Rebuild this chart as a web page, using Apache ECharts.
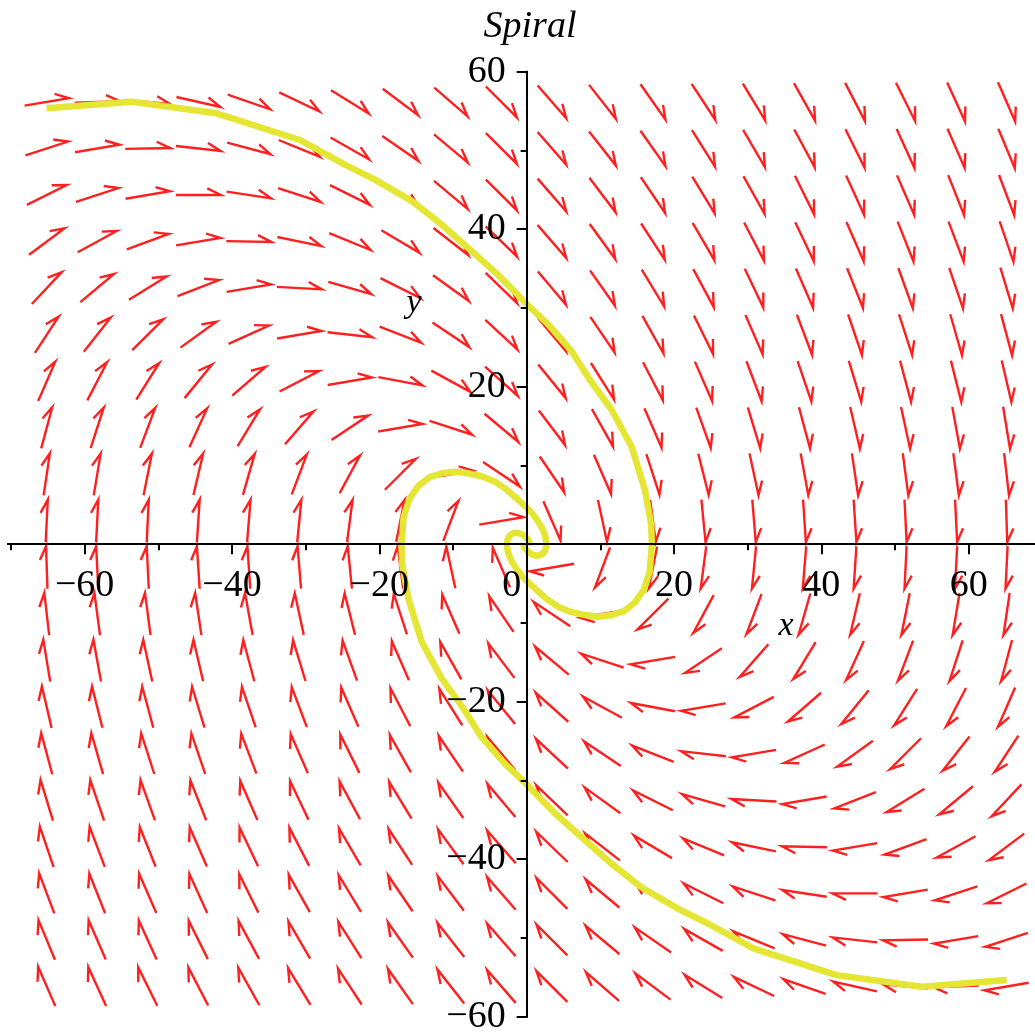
<!DOCTYPE html>
<html>
<head>
<meta charset="utf-8">
<script src="https://cdn.jsdelivr.net/npm/echarts@6/dist/echarts.min.js"></script>
<style>
html,body{margin:0;padding:0;background:#ffffff;}
#chart{width:1035px;height:1034px;}
</style>
</head>
<body>
<div id="chart"></div>
<script>
// ---------------- data ----------------
// arrow grid centres (x columns, y rows from top to bottom)
const xCenters = [-65.14, -58.29, -51.43, -44.57, -37.71, -30.86, -24.0, -17.14, -10.29, -3.43,
                  3.43, 10.29, 17.14, 24.0, 30.86, 37.71, 44.57, 51.43, 58.29, 65.14];
const yCenters = [56.16, 50.25, 44.34, 38.43, 32.52, 26.6, 20.69, 14.78, 8.87, 2.96,
                  -2.96, -8.87, -14.78, -20.69, -26.6, -32.52, -38.43, -44.34, -50.25, -56.16];
// arrow directions in degrees (data space, counter-clockwise from +x), one row per yCenters entry
const arrowAngles = [
  [9, 2, -5, -12, -18, -24, -30, -35, -39, -43, -47, -50, -53, -55, -57, -59, -61, -62, -64, -65],
  [17, 9, 1, -6, -14, -21, -28, -33, -38, -43, -47, -50, -53, -56, -58, -60, -62, -64, -65, -66],
  [25, 17, 9, 0, -8, -17, -25, -32, -38, -43, -47, -51, -54, -57, -59, -62, -64, -65, -67, -68],
  [35, 27, 19, 9, -1, -11, -21, -29, -36, -42, -47, -52, -55, -58, -61, -63, -65, -67, -68, -70],
  [45, 38, 30, 20, 9, -3, -15, -25, -34, -42, -48, -53, -57, -60, -63, -65, -67, -69, -70, -72],
  [55, 50, 43, 34, 23, 9, -6, -20, -32, -41, -48, -54, -59, -62, -65, -68, -70, -71, -73, -74],
  [65, 61, 56, 49, 39, 26, 9, -10, -27, -40, -49, -56, -61, -65, -68, -70, -72, -74, -75, -76],
  [74, 71, 68, 64, 57, 47, 32, 9, -17, -38, -51, -59, -65, -69, -72, -74, -76, -77, -79, -80],
  [81, 80, 78, 76, 73, 68, 60, 43, 9, -32, -54, -65, -71, -75, -77, -79, -81, -82, -82, -83],
  [87, 87, 87, 86, 85, 84, 82, 78, 68, 9, -65, -77, -82, -84, -85, -86, -86, -87, -87, -88],
  [92, 93, 93, 94, 94, 95, 96, 98, 103, 115, 189, 248, 258, 262, 264, 265, 266, 267, 267, 267],
  [97, 98, 98, 99, 101, 103, 105, 109, 115, 126, 148, 189, 223, 240, 248, 253, 256, 258, 260, 261],
  [100, 101, 103, 104, 106, 108, 111, 115, 121, 129, 142, 163, 189, 212, 227, 237, 244, 248, 251, 254],
  [104, 105, 106, 108, 110, 112, 115, 119, 124, 131, 140, 153, 170, 189, 206, 219, 229, 236, 241, 245],
  [106, 107, 109, 110, 112, 115, 118, 121, 126, 132, 139, 148, 160, 174, 189, 203, 214, 223, 230, 235],
  [108, 110, 111, 113, 115, 117, 120, 123, 127, 132, 138, 146, 155, 165, 177, 189, 200, 210, 218, 225],
  [110, 112, 113, 115, 117, 119, 122, 125, 128, 133, 138, 144, 151, 159, 169, 179, 189, 199, 207, 215],
  [112, 113, 115, 116, 118, 121, 123, 126, 129, 133, 137, 142, 148, 155, 163, 172, 180, 189, 197, 205],
  [114, 115, 116, 118, 120, 122, 124, 127, 130, 133, 137, 142, 147, 152, 159, 166, 174, 181, 189, 197],
  [115, 116, 118, 119, 121, 123, 125, 127, 130, 133, 137, 141, 145, 150, 156, 162, 168, 175, 182, 189]
];
// trajectory arms
const spiralArmA = [
  [-65.16,55.35],[-53.62,56.19],[-42.08,54.72],[-30.77,51.33],[-24.67,48.2],[-20.6,46.3],[-15.61,43.6],
  [-11.54,40.6],[-7.93,37.6],[-3.86,34.2],[0,30.5],[2.93,27.9],[6.11,24.5],[8.59,20.85],[11.54,17.04],
  [14.25,12.38],[16.06,6.88],[16.9,2.5],[17.0,0],[16.7,-3.5],[15.9,-5.8],[14.7,-7.4],[13.2,-8.5],
  [11.54,-9.0],[9.7,-9.2],[7.91,-9.0],[6.0,-8.6],[4.29,-7.94],[2.8,-7.0],[1.58,-6.0],[0.4,-5.0],
  [-0.6,-4.1],[-1.4,-3.1],[-2.0,-2.2],[-2.4,-1.4],[-2.6,-0.69],[-2.68,-0.09],[-2.64,0.41],[-2.33,1.09],
  [-1.81,1.41],[-1.24,1.44],[-0.69,1.28],[-0.23,1.0],[0.23,0.53],[0.42,0.13],[0.38,-0.17]
];
const spiralArmB = [
  [65.16,-55.35],[53.62,-56.19],[42.08,-54.72],[30.77,-51.33],[24.67,-48.2],[20.6,-46.3],[15.61,-43.6],
  [11.54,-40.6],[7.93,-37.6],[3.86,-34.2],[0,-30.5],[-2.93,-27.9],[-6.11,-24.5],[-8.59,-20.85],[-11.54,-17.04],
  [-14.25,-12.38],[-16.06,-6.88],[-16.9,-2.5],[-17.0,0],[-16.7,3.5],[-15.9,5.8],[-14.7,7.4],[-13.2,8.5],
  [-11.54,9.0],[-9.7,9.2],[-7.91,9.0],[-6.0,8.6],[-4.29,7.94],[-2.8,7.0],[-1.58,6.0],[-0.4,5.0],
  [0.6,4.1],[1.4,3.1],[2.0,2.2],[2.4,1.4],[2.6,0.69],[2.68,0.09],[2.64,-0.41],[2.33,-1.09],
  [1.81,-1.41],[1.24,-1.44],[0.69,-1.28],[0.23,-1.0],[-0.23,-0.53],[-0.42,-0.13],[-0.38,0.17]
];
// axis ticks and labels
const xMajorTicks = [-60, -40, -20, 0, 20, 40, 60];
const xMinorTicks = [-70, -50, -30, -10, 10, 30, 50];
const xLabels = [-60, -40, -20, 0, 20, 40, 60];
const yMajorTicks = [-60, -40, -20, 20, 40, 60];
const yMinorTicks = [-50, -30, -10, 10, 30, 50];
const yLabels = [-60, -40, -20, 20, 40, 60];
const titleText = 'Spiral';
const xName = 'x';
const yName = 'y';

// ---------------- chart ----------------
const FONT = '"Liberation Serif", "Times New Roman", serif';
const X_MIN = -70.4, X_MAX = 69, Y_MIN = -60, Y_MAX = 60;
const G_LEFT = 8, G_RIGHT = 0, G_TOP = 71.7, G_BOTTOM = 17.3;
const W = 1035, H = 1034;
const gw = W - G_LEFT - G_RIGHT, gh = H - G_TOP - G_BOTTOM;
// offsets that bring the axes onto the origin lines
const yAxisOffset = -((0 - X_MIN) / (X_MAX - X_MIN) * gw);
const xAxisOffset = -((0 - Y_MIN) / (Y_MAX - Y_MIN) * gh);

const arrowData = [];
for (let j = 0; j < yCenters.length; j++) {
  for (let i = 0; i < xCenters.length; i++) {
    arrowData.push([xCenters[i], yCenters[j], arrowAngles[j][i]]);
  }
}
function numLabel(v) { return (v < 0 ? '\u2212' : '') + Math.abs(v); }

function renderArrow(params, api) {
  const x = api.value(0), y = api.value(1), a = api.value(2) * Math.PI / 180;
  const c = api.coord([x, y]);
  const d = api.coord([x + Math.cos(a), y + Math.sin(a)]);
  let dx = d[0] - c[0], dy = d[1] - c[1];
  const n = Math.hypot(dx, dy); dx /= n; dy /= n;
  const L = 1 / Math.sqrt((dx / 45) * (dx / 45) + (dy / 42.5) * (dy / 42.5));
  const h = L / 2;
  const tail = [c[0] - dx * h, c[1] - dy * h];
  const head = [c[0] + dx * h, c[1] + dy * h];
  const phi = 26 * Math.PI / 180, bl = 15;
  const bx = -dx, by = -dy;
  const rx = bx * Math.cos(phi) - by * Math.sin(phi);
  const ry = bx * Math.sin(phi) + by * Math.cos(phi);
  const barb = [head[0] + rx * bl, head[1] + ry * bl];
  return {
    type: 'polyline',
    shape: { points: [tail, head, barb] },
    style: { stroke: '#ff1f1f', lineWidth: 2.4, fill: null, lineJoin: 'miter' }
  };
}

const axisLineStyle = { color: '#000', width: 2 };
function makeXAxis(ticks, len, labels) {
  return {
    type: 'value', min: X_MIN, max: X_MAX, position: 'bottom', offset: xAxisOffset, z: 10,
    axisLine: { show: true, onZero: false, lineStyle: axisLineStyle },
    axisTick: { show: true, customValues: ticks, length: len, lineStyle: { color: '#000', width: 2 } },
    axisLabel: labels ? {
      show: true, customValues: labels, margin: 23, color: '#000', fontFamily: FONT, fontSize: 38,
      formatter: function (v) { return v === 0 ? '{zero|0}' : numLabel(v); },
      rich: { zero: { fontFamily: FONT, fontSize: 38, color: '#000', padding: [0, 30, 0, 0] } }
    } : { show: false },
    splitLine: { show: false }
  };
}
function makeYAxis(ticks, len, labels) {
  return {
    type: 'value', min: Y_MIN, max: Y_MAX, position: 'left', offset: yAxisOffset, z: 10,
    axisLine: { show: true, onZero: false, lineStyle: axisLineStyle },
    axisTick: { show: true, customValues: ticks, length: len, lineStyle: { color: '#000', width: 2 } },
    axisLabel: labels ? {
      show: true, customValues: labels, margin: 21, color: '#000', fontFamily: FONT, fontSize: 38,
      padding: [6, 0, 0, 0],
      formatter: function (v) { return numLabel(v); }
    } : { show: false },
    splitLine: { show: false }
  };
}

const chart = echarts.init(document.getElementById('chart'), null, { renderer: 'canvas' });
chart.setOption({
  animation: false,
  backgroundColor: '#ffffff',
  title: {
    text: titleText, left: 530, top: 8, textAlign: 'center', padding: 0,
    textStyle: { fontFamily: FONT, fontStyle: 'italic', fontWeight: 'normal', fontSize: 38, color: '#000' }
  },
  grid: { left: G_LEFT, right: G_RIGHT, top: G_TOP, bottom: G_BOTTOM, containLabel: false, outerBoundsMode: 'none' },
  xAxis: [makeXAxis(xMajorTicks, 10, xLabels), makeXAxis(xMinorTicks, 6, null)],
  yAxis: [makeYAxis(yMajorTicks, 10, yLabels), makeYAxis(yMinorTicks, 6, null)],
  graphic: [
    { type: 'text', x: 786, y: 626, z: 20,
      style: { text: xName, font: 'italic 34px ' + FONT, fill: '#000', align: 'center', verticalAlign: 'middle' } },
    { type: 'text', x: 414, y: 303, z: 20,
      style: { text: yName, font: 'italic 34px ' + FONT, fill: '#000', align: 'center', verticalAlign: 'middle' } }
  ],
  series: [
    { type: 'custom', name: 'field', xAxisIndex: 0, yAxisIndex: 0, z: 1, silent: true,
      renderItem: renderArrow, encode: { x: 0, y: 1 }, data: arrowData },
    { type: 'line', name: 'armA', xAxisIndex: 0, yAxisIndex: 0, z: 2, silent: true,
      showSymbol: false, symbol: 'none', smooth: false, data: spiralArmA,
      lineStyle: { color: '#e5e533', width: 6.5, cap: 'butt', join: 'round' } },
    { type: 'line', name: 'armB', xAxisIndex: 0, yAxisIndex: 0, z: 2, silent: true,
      showSymbol: false, symbol: 'none', smooth: false, data: spiralArmB,
      lineStyle: { color: '#e5e533', width: 6.5, cap: 'butt', join: 'round' } }
  ]
});
</script>
</body>
</html>
